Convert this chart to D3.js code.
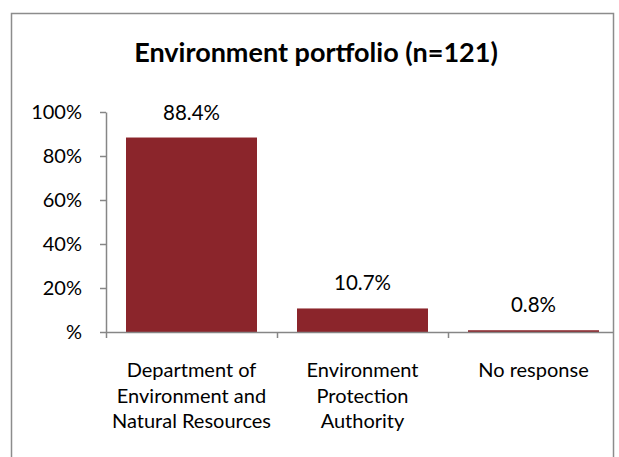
<!DOCTYPE html>
<html lang="en">
  <head>
    <style>
      body { margin: 0; background: #fff; }
      text { font-family: Lato, "Open Sans", sans-serif; fill: #000; }
      .axis path, .axis line { stroke: #868686; stroke-width: 1.5; }
    </style>
  </head>
  <body>
    <svg id="container" height="457" width="619"></svg>
  </body>
  <script src="https://d3js.org/d3.v7.min.js"></script>
  <script>
let svg = d3.select("#container")

let categories = [
    ["Department of", "Environment and", "Natural Resources"],
    ["Environment", "Protection", "Authority"],
    ["No response"]
]
let values = [0.884, 0.107, 0.008]
let valueLabels = ["88.4%", "10.7%", "0.8%"]
let yTicks = [0, 0.2, 0.4, 0.6, 0.8, 1]
let yTickLabels = ["%", "20%", "40%", "60%", "80%", "100%"]

let plotLeft = 106, plotRight = 619, plotTop = 112, plotBottom = 332

// chart frame (bottom edge is cut off in the reference)
svg.append("rect")
    .attr("x", 11.5).attr("y", 13.5)
    .attr("width", 602).attr("height", 480)
    .attr("fill", "none")
    .attr("stroke", "#8c8c8c")
    .attr("stroke-width", 1.5)

svg.append("text")
    .attr("x", 316).attr("y", 62)
    .attr("text-anchor", "middle")
    .style("font-weight", "bold")
    .style("font-size", "27px")
    .text("Environment portfolio (n=121)")

let x = d3.scaleBand()
    .domain(d3.range(values.length))
    .range([plotLeft, plotRight])
    .paddingInner(0.234)
    .paddingOuter(0.117)

let y = d3.scaleLinear().domain([0, 1]).range([plotBottom, plotTop])

svg.append("g")
    .selectAll("rect")
    .data(values)
    .enter()
    .append("rect")
        .attr("x", (d, i) => x(i))
        .attr("y", d => y(d))
        .attr("width", x.bandwidth())
        .attr("height", d => y(0) - y(d))
        .attr("fill", "#8b252b")

svg.append("g")
    .selectAll("text")
    .data(values)
    .enter()
    .append("text")
        .attr("x", (d, i) => x(i) + x.bandwidth() / 2)
        .attr("y", d => y(d) - 18)
        .attr("text-anchor", "middle")
        .style("font-size", "20.5px")
        .text((d, i) => valueLabels[i])

let yAxis = d3.axisLeft(y)
    .tickValues(yTicks)
    .tickFormat((d, i) => yTickLabels[i])
    .tickSize(6)
    .tickSizeOuter(0)
    .tickPadding(18)

svg.append("g")
    .attr("class", "axis")
    .attr("transform", `translate(${plotLeft},0)`)
    .call(yAxis)
    .call(g => g.selectAll("text").style("font-size", "20px").style("font-family", "Lato"))

// x axis: ticks sit on the category boundaries
let xEdge = d3.scaleLinear().domain([0, values.length]).range([plotLeft, plotRight])
let xAxis = d3.axisBottom(xEdge)
    .tickValues(d3.range(values.length))
    .tickFormat("")
    .tickSize(6)
    .tickSizeOuter(0)

svg.append("g")
    .attr("class", "axis")
    .attr("transform", `translate(0,${plotBottom})`)
    .call(xAxis)
    .call(g => g.select("path").attr("d", `M${plotLeft},0.5H613`))

let catLabels = svg.append("g")
    .selectAll("text")
    .data(categories)
    .enter()
    .append("text")
        .attr("text-anchor", "middle")
        .style("font-size", "20px")

catLabels.selectAll("tspan")
    .data((d, i) => d.map(line => ({ line, i })))
    .enter()
    .append("tspan")
        .attr("x", d => x(d.i) + x.bandwidth() / 2)
        .attr("y", (d, j) => 377 + j * 25.5)
        .text(d => d.line)
  </script>
</html>
